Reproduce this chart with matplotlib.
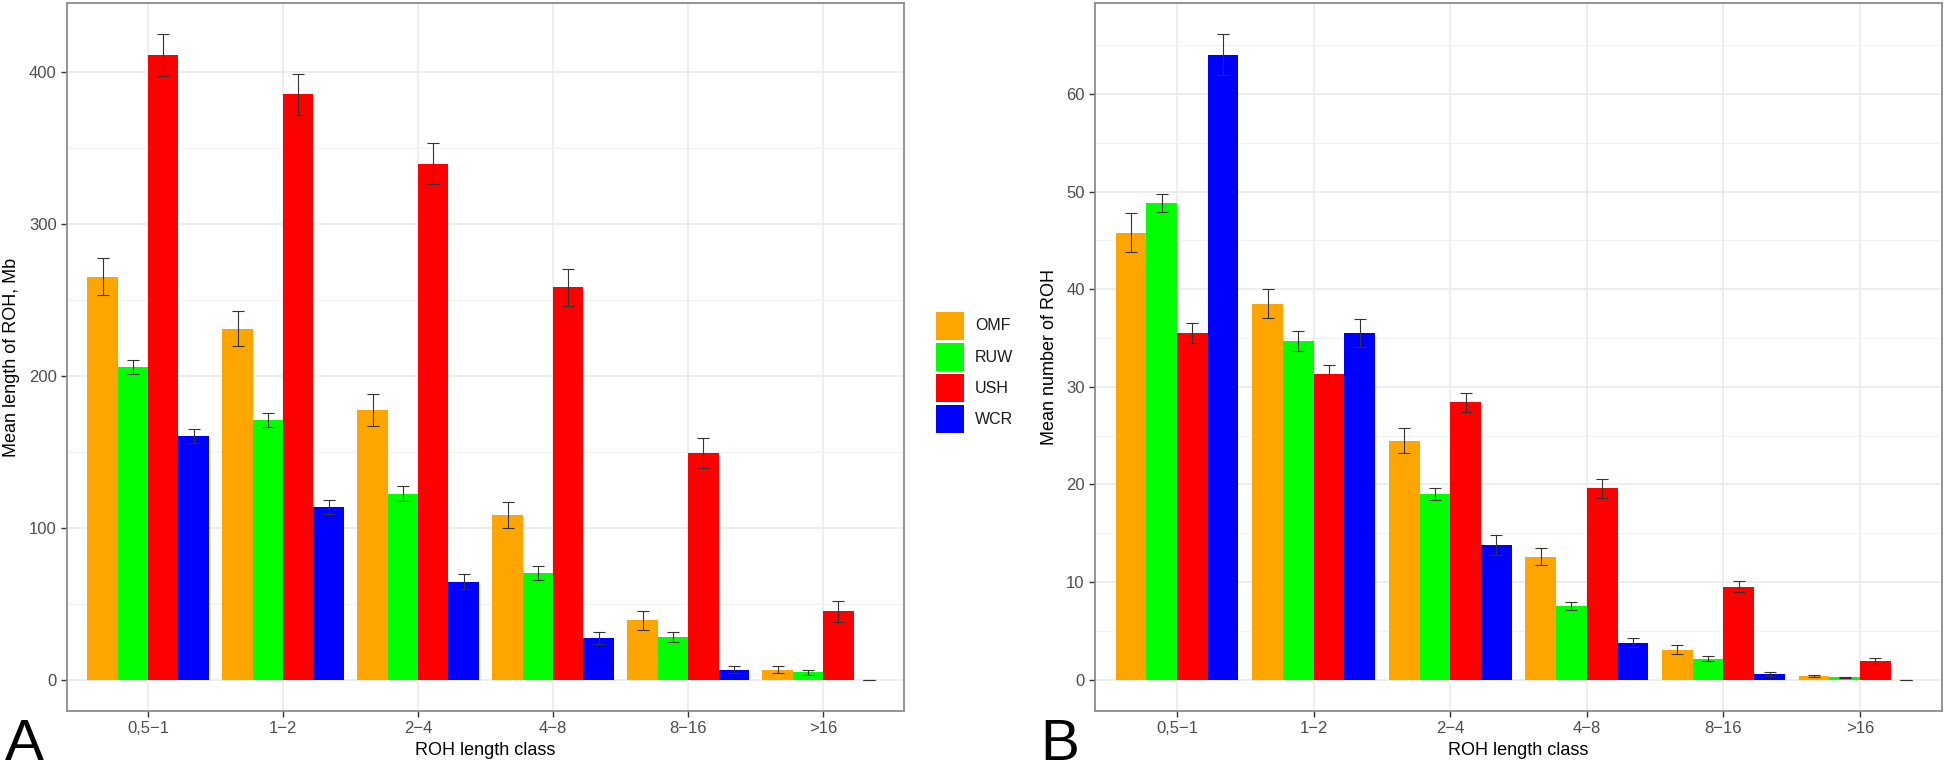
import numpy as np
import matplotlib
matplotlib.use("Agg")
import matplotlib.pyplot as plt
from matplotlib.patches import Rectangle

plt.rcParams['font.family'] = ['Liberation Sans', 'DejaVu Sans']

# ROH length classes and breeds
classes = ["0,5\u22121", "1\u22122", "2\u22124", "4\u22128", "8\u221216", ">16"]
breeds = ["OMF", "RUW", "USH", "WCR"]
colors = ["#FFA500", "#00FF00", "#FF0000", "#0000FF"]

# panel A: mean length of ROH, Mb (with error bars)
len_omf = [265, 231, 177.5, 108.5, 39, 6.6]
len_ruw = [206, 171, 122.5, 70.3, 28, 4.8]
len_ush = [411, 385, 339.5, 258, 149, 45]
len_wcr = [160.5, 113.5, 64.5, 27.3, 6.6, 0]
len_omf_err = [12.2, 11.4, 10.5, 8.4, 6, 2.4]
len_ruw_err = [4.6, 4.7, 4.7, 4.6, 3.4, 1.8]
len_ush_err = [13.8, 13.7, 13.6, 12.2, 9.7, 7]
len_wcr_err = [4.6, 4.8, 4.9, 4, 2.4, 0]

# panel B: mean number of ROH
num_omf = [45.8, 38.5, 24.5, 12.6, 3.07, 0.34]
num_ruw = [48.8, 34.7, 19.0, 7.56, 2.15, 0.24]
num_ush = [35.5, 31.3, 28.4, 19.6, 9.54, 1.87]
num_wcr = [64.0, 35.5, 13.8, 3.8, 0.61, 0.01]
num_omf_err = [2.0, 1.5, 1.3, 0.9, 0.45, 0.1]
num_ruw_err = [0.9, 1.0, 0.6, 0.45, 0.25, 0.05]
num_ush_err = [1.0, 0.9, 1.0, 0.95, 0.55, 0.34]
num_wcr_err = [2.1, 1.4, 1.0, 0.5, 0.2, 0.0]

grey = "#4D4D4D"
W, H = 1944, 777


def bar_panel(ax, vals, errs, ylabel, ylim, major, minor):
    x = np.arange(1, len(classes) + 1)
    w = 0.225
    for i in range(len(breeds)):
        xi = x + (i - 1.5) * w
        ax.bar(xi, vals[i], width=w, color=colors[i], linewidth=0, zorder=3)
        ax.errorbar(xi, vals[i], yerr=errs[i], fmt="none", ecolor="#333333",
                    elinewidth=0.8, capsize=4.3, capthick=0.8, zorder=4)
    ax.set_xlim(0.4, 6.6)
    ax.set_ylim(*ylim)
    ax.set_xticks(x)
    ax.set_xticklabels(classes)
    ax.set_yticks(major)
    ax.set_yticks(minor, minor=True)
    ax.tick_params(axis="both", which="major", labelsize=12, labelcolor=grey,
                   color="#333333", length=4, width=1)
    ax.tick_params(axis="y", which="minor", length=0)
    # grid like ggplot theme_bw
    ax.grid(True, which="major", color="#EBEBEB", linewidth=1.2, zorder=0)
    ax.grid(True, which="minor", axis="y", color="#F2F2F2", linewidth=0.7, zorder=0)
    ax.set_axisbelow(True)
    for s in ax.spines.values():
        s.set_color("#8C8C8C")
        s.set_linewidth(1.3)
    ax.set_xlabel("ROH length class", fontsize=13, labelpad=4)
    ax.set_ylabel(ylabel, fontsize=13, labelpad=6)


fig = plt.figure(figsize=(W / 100, H / 100), dpi=100)
axA = fig.add_axes([0.0345, 0.085, 0.4306, 0.911])
axB = fig.add_axes([0.5633, 0.085, 0.4357, 0.911])

bar_panel(axA, [len_omf, len_ruw, len_ush, len_wcr],
          [len_omf_err, len_ruw_err, len_ush_err, len_wcr_err],
          "Mean length of ROH, Mb", (-20.5, 445),
          [0, 100, 200, 300, 400], [50, 150, 250, 350])
bar_panel(axB, [num_omf, num_ruw, num_ush, num_wcr],
          [num_omf_err, num_ruw_err, num_ush_err, num_wcr_err],
          "Mean number of ROH", (-3.2, 69.3),
          [0, 10, 20, 30, 40, 50, 60], [5, 15, 25, 35, 45, 55, 65])

# legend between the panels, keys placed in figure pixels
key_x, key_top, key_size, key_step = 936, 312, 28, 31
for i, (name, c) in enumerate(zip(breeds, colors)):
    top = key_top + i * key_step
    fig.patches.append(Rectangle((key_x / W, 1 - (top + key_size) / H),
                                 key_size / W, key_size / H,
                                 facecolor=c, edgecolor="none",
                                 transform=fig.transFigure, figure=fig))
    fig.text(975 / W, 1 - (top + key_size / 2) / H, name, fontsize=11.5,
             ha="left", va="center", color="#1A1A1A")

fig.text(0.0025, 0.006, "A", fontsize=42, ha="left", va="bottom")
fig.text(0.535, 0.006, "B", fontsize=42, ha="left", va="bottom")

fig.savefig("out.png", dpi=100)
